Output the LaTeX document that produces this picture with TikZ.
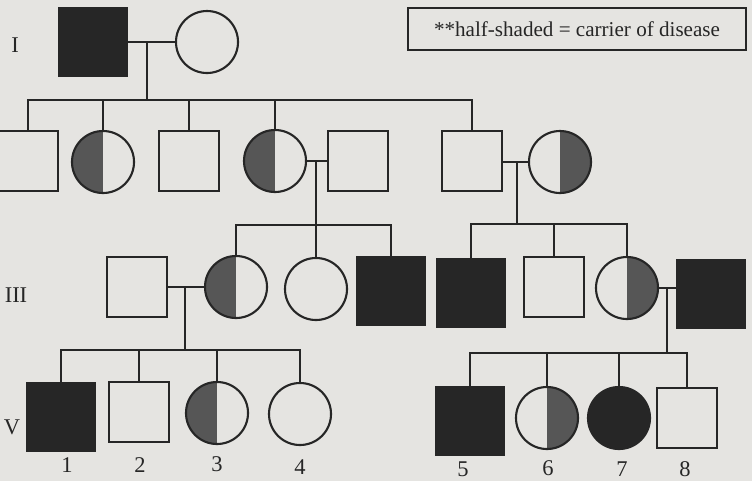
\documentclass[tikz,border=0pt]{standalone}
\usepackage{fontspec}
\setmainfont{Liberation Serif}
\usepackage{xcolor}
\usepackage{tikz}
\usetikzlibrary{positioning}
\definecolor{Paper}{RGB}{229, 228, 225}
\definecolor{Ink}{RGB}{38, 38, 38}
\definecolor{Shade}{RGB}{86, 86, 86}

\begin{document}
\begin{tikzpicture}[
    x=0.025cm, y=-0.025cm,
    male/.style={rectangle, draw=Ink, fill=Paper, line width=1.5pt, minimum size=1.48cm, inner sep=0pt},
    female/.style={circle, draw=Ink, fill=Paper, line width=1.5pt, minimum size=1.55cm, inner sep=0pt},
    affected/.style={fill=Ink, minimum size=1.7cm},
    carrierL/.style={female, path picture={\fill[Shade] (path picture bounding box.south west) rectangle (path picture bounding box.north);}},
    carrierR/.style={female, path picture={\fill[Shade] (path picture bounding box.south) rectangle (path picture bounding box.north east);}},
    link/.style={Ink, line width=1.5pt},
    gen/.style={font=\fontsize{16}{16}\selectfont, Ink},
    num/.style={font=\fontsize{16}{16}\selectfont, Ink},
    key/.style={rectangle, draw=Ink, line width=1.2pt, minimum width=8.45cm, minimum height=1.05cm, font=\fontsize{15}{15}\selectfont, text=Ink},
]
\useasboundingbox[fill=Paper] (0,0) rectangle (752,481);

% generation I
\node[male, affected] (I1) at (93,42) {};
\node[female] (I2) at (207,42) {};
% generation II
\node[male] (II1) at (28,161) {};
\node[carrierL] (II2) at (103,162) {};
\node[male] (II3) at (189,161) {};
\node[carrierL] (II4) at (275,161) {};
\node[male] (II5) at (358,161) {};
\node[male] (II6) at (472,161) {};
\node[carrierR] (II7) at (560,162) {};
% generation III
\node[male] (III1) at (137,287) {};
\node[carrierL] (III2) at (236,287) {};
\node[female] (III3) at (316,289) {};
\node[male, affected] (III4) at (391,291) {};
\node[male, affected] (III5) at (471,293) {};
\node[male] (III6) at (554,287) {};
\node[carrierR] (III7) at (627,288) {};
\node[male, affected] (III8) at (711,294) {};
% generation V
\node[male, affected] (V1) at (61,417) {};
\node[male] (V2) at (139,412) {};
\node[carrierL] (V3) at (217,413) {};
\node[female] (V4) at (300,414) {};
\node[male, affected] (V5) at (470,421) {};
\node[carrierR] (V6) at (547,418) {};
\node[female, fill=Ink] (V7) at (619,418) {};
\node[male] (V8) at (687,418) {};

% couples and sibships
\coordinate (u1) at (147,42);
\coordinate (s1) at (147,100);
\coordinate (u2) at (316,161);
\coordinate (s2) at (316,225);
\coordinate (u3) at (517,162);
\coordinate (s3) at (517,224);
\coordinate (u4) at (185,287);
\coordinate (s4) at (185,350);
\coordinate (u5) at (667,288);
\coordinate (s5) at (667,353);

\draw[link] (I1.east) -- (I1.east -| I2.west);
\draw[link] (u1) -- (s1);
\draw[link] (II1.north) |- (s1) -| (II6.north);
\foreach \c in {II2,II3,II4}
  \draw[link] (\c.north) -- (\c.north |- s1);

\draw[link] (II4.east) -- (II4.east -| II5.west);
\draw[link] (u2) -- (s2);
\draw[link] (III2.north) |- (s2) -| (III4.north);
\draw[link] (III3.north) -- (III3.north |- s2);

\draw[link] (II7.west) -- (II7.west -| II6.east);
\draw[link] (u3) -- (s3);
\draw[link] (III5.north) |- (s3) -| (III7.north);
\draw[link] (III6.north) -- (III6.north |- s3);

\draw[link] (III2.west) -- (III2.west -| III1.east);
\draw[link] (u4) -- (s4);
\draw[link] (V1.north) |- (s4) -| (V4.north);
\foreach \c in {V2,V3}
  \draw[link] (\c.north) -- (\c.north |- s4);

\draw[link] (III7.east) -- (III7.east -| III8.west);
\draw[link] (u5) -- (s5);
\draw[link] (V5.north) |- (s5) -| (V8.north);
\foreach \c in {V6,V7}
  \draw[link] (\c.north) -- (\c.north |- s5);

% generation labels and numbers
\node[gen] (gI) at (15,45) {I};
\node[gen] (gIII) at (16,295) {III};
\node[gen] (gV) at (12,427) {V};
\node[num] (n1) at (67,465) {1};
\node[num] (n2) at (140,465) {2};
\node[num] (n3) at (217,464) {3};
\node[num] (n4) at (300,467) {4};
\node[num] (n5) at (463,469) {5};
\node[num] (n6) at (548,468) {6};
\node[num] (n7) at (622,469) {7};
\node[num] (n8) at (685,469) {8};

\node[key] (legend) at (577,29) {**half-shaded = carrier of disease};
\end{tikzpicture}
\end{document}
